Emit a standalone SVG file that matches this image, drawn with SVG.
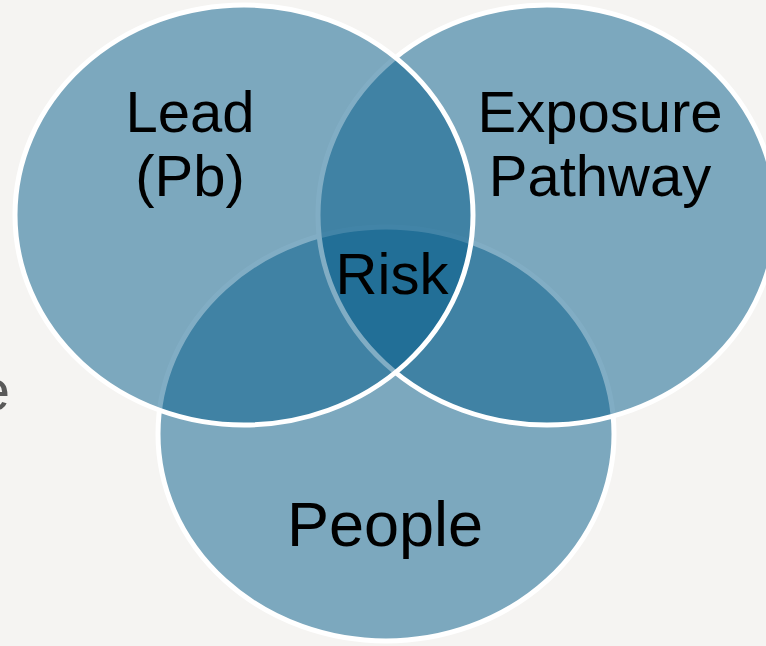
<svg xmlns="http://www.w3.org/2000/svg" width="766" height="646" viewBox="0 0 766 646">
  <style>
    .set { fill: #035c89; fill-opacity: 0.5; stroke: #ffffff; stroke-width: 5; }
    .label { font-family: "Liberation Sans", Arial, sans-serif; font-size: 58px; fill: #000000; text-anchor: middle; }
    .big { font-size: 63px; }
    .side { font-family: "Liberation Sans", Arial, sans-serif; font-size: 58px; fill: #595959; text-anchor: end; }
  </style>
  <rect x="0" y="0" width="766" height="646" fill="#f5f4f2"/>
  <text class="side" x="10" y="410">e</text>
  <g id="people">
    <ellipse class="set" cx="386" cy="434" rx="228" ry="207"/>
  </g>
  <g id="exposure-pathway">
    <ellipse class="set" cx="547" cy="215" rx="229" ry="210"/>
  </g>
  <g id="lead">
    <ellipse class="set" cx="244" cy="215" rx="229" ry="210"/>
  </g>
  <g id="labels">
    <text class="label" x="190" y="132">Lead</text>
    <text class="label" x="190" y="196">(Pb)</text>
    <text class="label" x="600" y="132">Exposure</text>
    <text class="label" x="600" y="196">Pathway</text>
    <text class="label" x="392" y="294">Risk</text>
    <text class="label big" x="385" y="546">People</text>
  </g>
</svg>
